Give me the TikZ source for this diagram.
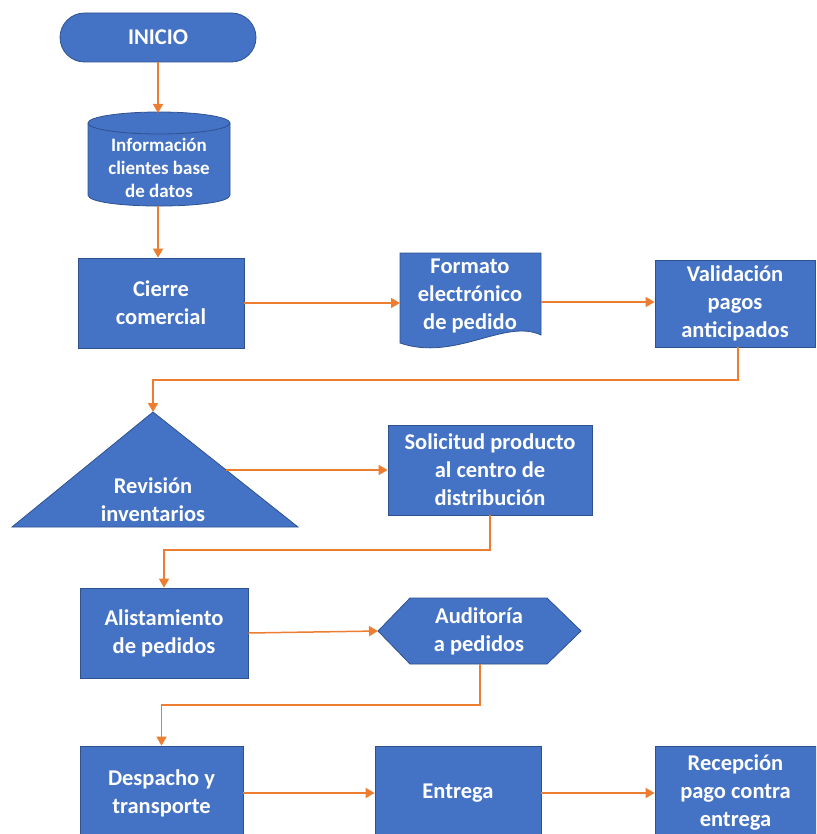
\documentclass[tikz,border=0pt]{standalone}
\usepackage{fontspec}
\setmainfont{Carlito}
\usetikzlibrary{arrows.meta}
\definecolor{boxfill}{HTML}{4472C4}
\definecolor{boxline}{HTML}{2F528F}
\definecolor{flow}{HTML}{ED7D31}
\tikzset{
  shapefill/.style={fill=boxfill, draw=boxline, line width=0.8pt},
  boxnode/.style={shapefill, text=white, align=center, inner sep=0pt,
    font=\fontsize{22.5}{28}\selectfont\bfseries},
  label/.style={text=white, align=center, inner sep=0pt,
    font=\fontsize{22.5}{28}\selectfont\bfseries},
  flowarrow/.style={draw=flow, line width=1.5pt, -{Triangle[length=9pt,width=10pt]}},
}
\begin{document}
\begin{tikzpicture}[x=1pt,y=-1pt]
\useasboundingbox (0,0) rectangle (816,834);
\clip (0,0) rectangle (816,834);

% start terminator
\node[boxnode, minimum width=196pt, minimum height=49pt, rounded corners=24.5pt]
  (inicio) at (158,37.5) {INICIO};

% database cylinder
\fill[boxfill] (88,123) -- (88,195) .. controls (88,209.7) and (230,209.7) .. (230,195) -- (230,123) -- cycle;
\draw[boxline, line width=0.8pt] (88,123) -- (88,195) .. controls (88,209.7) and (230,209.7) .. (230,195) -- (230,123);
\draw[shapefill] (159,123) ellipse [x radius=71pt, y radius=11pt];
\node[label, font=\fontsize{19}{23}\selectfont\bfseries] (datos) at (159,168)
  {Información\\clientes base\\de datos};
\coordinate (datosN) at (158,113);
\coordinate (datosS) at (158,206);

% closing of the sale
\node[boxnode, minimum width=166pt, minimum height=90pt] (cierre) at (161,303)
  {Cierre\\comercial};

% document shape
\draw[shapefill] (400,253) -- (541,253) -- (541,335)
  .. controls (505,318) and (455,362) .. (400,343) -- cycle;
\node[label] (formato) at (470,296) {Formato\\electrónico\\de pedido};
\coordinate (formatoW) at (400,303);
\coordinate (formatoE) at (541,302);

\node[boxnode, minimum width=160pt, minimum height=87pt] (valida) at (735,303.5)
  {Validación\\pagos\\anticipados};

% inventory triangle
\draw[shapefill] (153,412) -- (298,527) -- (12,527) -- cycle;
\node[label] (revision) at (153,500) {Revisión\\inventarios};
\coordinate (revTop) at (153,412);
\coordinate (revE) at (226,470);

\node[boxnode, minimum width=204pt, minimum height=90pt] (solicitud) at (490,470)
  {Solicitud producto\\al centro de\\distribución};

\node[boxnode, minimum width=168pt, minimum height=90pt] (alista) at (164,633)
  {Alistamiento\\de pedidos};

% audit hexagon
\draw[shapefill] (378,631) -- (410,598) -- (547,598) -- (581,631) -- (547,664) -- (410,664) -- cycle;
\node[label] (auditoria) at (479,631) {Auditoría\\a pedidos};
\coordinate (audW) at (378,631);
\coordinate (audS) at (480,664);

\node[boxnode, minimum width=163pt, minimum height=94pt] (despacho) at (161.5,793)
  {Despacho y\\transporte};
\node[boxnode, minimum width=166pt, minimum height=94pt] (entrega) at (458,793)
  {Entrega};
\node[boxnode, minimum width=161pt, minimum height=94pt] (recepcion) at (735.5,793)
  {Recepción\\pago contra\\entrega};

% bends of the elbow connectors
\coordinate (bendA) at (738,380);
\coordinate (bendB) at (153,380);
\coordinate (bendC) at (490,550);
\coordinate (bendD) at (164,550);
\coordinate (bendE) at (480,705);
\coordinate (bendF) at (161.5,705);

% connectors
\draw[flowarrow] (inicio.south) -- (datosN);
\draw[flowarrow] (datosS) -- (cierre.north -| datosS);
\draw[flowarrow] (cierre.east) -- (formatoW);
\draw[flowarrow] (formatoE) -- (valida.west |- formatoE);
\draw[flowarrow] (valida.south -| bendA) -- (bendA) -- (bendB) -- (revTop);
\draw[flowarrow] (revE) -- (solicitud.west |- revE);
\draw[flowarrow] (solicitud.south) -- (bendC) -- (bendD) -- (alista.north);
\draw[flowarrow] (alista.east) -- (audW);
\draw[flowarrow] (audS) -- (bendE) -- (bendF) -- (despacho.north);
\draw[flowarrow] (despacho.east) -- (entrega.west);
\draw[flowarrow] (entrega.east) -- (recepcion.west);
\end{tikzpicture}
\end{document}
